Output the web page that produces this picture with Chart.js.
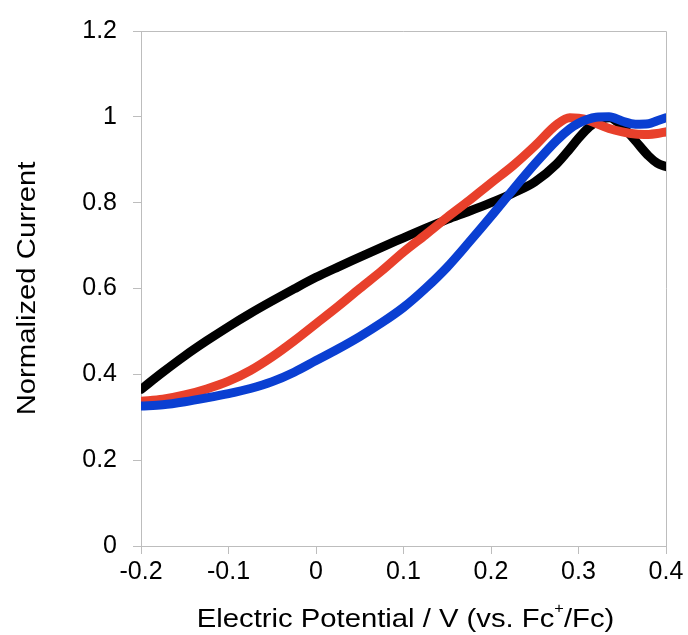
<!DOCTYPE html>
<html>
<head>
<meta charset="utf-8">
<script src="https://cdn.jsdelivr.net/npm/chart.js@4/dist/chart.umd.min.js"></script>
<style>
  html, body { margin: 0; padding: 0; background: #fff; }
  #wrap { width: 688px; height: 635px; position: relative; }
</style>
</head>
<body>
<div id="wrap"><canvas id="c" width="688" height="635"></canvas></div>
<script>
// Potential (V vs. Fc+/Fc) sampled for each trace
const potential = [-0.2, -0.175, -0.15, -0.125, -0.1, -0.075, -0.05, -0.025, 0, 0.025, 0.05, 0.075, 0.1, 0.125, 0.15, 0.175, 0.2, 0.225, 0.25, 0.275, 0.29, 0.3, 0.31, 0.32, 0.335, 0.35, 0.365, 0.38, 0.39, 0.4];

// Normalized current traces
const blackCurrent = [0.365, 0.405, 0.443, 0.478, 0.511, 0.542, 0.571, 0.599, 0.626, 0.650, 0.673, 0.696, 0.718, 0.740, 0.761, 0.780, 0.800, 0.822, 0.848, 0.890, 0.925, 0.950, 0.972, 0.988, 0.998, 0.978, 0.944, 0.909, 0.892, 0.884];
const redCurrent   = [0.337, 0.342, 0.352, 0.366, 0.384, 0.409, 0.441, 0.478, 0.518, 0.558, 0.600, 0.641, 0.685, 0.725, 0.766, 0.805, 0.846, 0.886, 0.932, 0.982, 0.998, 0.997, 0.993, 0.985, 0.973, 0.965, 0.960, 0.959, 0.961, 0.965];
const blueCurrent  = [0.326, 0.329, 0.336, 0.345, 0.355, 0.367, 0.383, 0.405, 0.432, 0.459, 0.488, 0.520, 0.556, 0.600, 0.650, 0.708, 0.768, 0.830, 0.890, 0.945, 0.972, 0.985, 0.994, 0.999, 1.000, 0.990, 0.983, 0.984, 0.991, 0.998];

// Axis tick values
const xTicks = [-0.2, -0.1, 0, 0.1, 0.2, 0.3, 0.4];
const yTicks = [0, 0.2, 0.4, 0.6, 0.8, 1, 1.2];

const toPoints = ys => potential.map((x, i) => ({ x: x, y: ys[i] }));

const FONT = 'Liberation Sans, Arial, sans-serif';
const AXIS_GREY = '#bdbdbd';
const TITLE_SIZE = 25;
const TITLE_STRETCH = 1.17;

// Frame lines on the top and right edge of the plot area
const framePlugin = {
  id: 'frame',
  afterDatasetsDraw(chart) {
    const { ctx, chartArea: a } = chart;
    ctx.save();
    ctx.strokeStyle = AXIS_GREY;
    ctx.lineWidth = 1;
    ctx.beginPath();
    ctx.moveTo(a.left, a.top + 0.5);
    ctx.lineTo(a.right + 0.5, a.top + 0.5);
    ctx.lineTo(a.right + 0.5, a.bottom);
    ctx.stroke();
    ctx.restore();
  }
};

// Writes a run of text pieces (with optional raised pieces) centred on 0
function drawRuns(ctx, parts) {
  let total = 0;
  parts.forEach(p => { ctx.font = p.size + 'px ' + FONT; p.w = ctx.measureText(p.t).width; total += p.w; });
  let x = -total / 2;
  parts.forEach(p => {
    ctx.font = p.size + 'px ' + FONT;
    ctx.fillText(p.t, x, p.dy);
    x += p.w;
  });
}

// Axis titles: x title carries a superscript "+"
const titlesPlugin = {
  id: 'axisTitles',
  afterDraw(chart) {
    const { ctx, chartArea: a } = chart;
    ctx.save();
    ctx.fillStyle = '#000';
    ctx.textBaseline = 'alphabetic';
    ctx.textAlign = 'left';

    ctx.save();
    ctx.translate((a.left + a.right) / 2 + 2, 627);
    ctx.scale(TITLE_STRETCH, 1);
    drawRuns(ctx, [
      { t: 'Electric Potential / V (vs. Fc', size: TITLE_SIZE, dy: 0 },
      { t: '+', size: 14, dy: -14 },
      { t: '/Fc)', size: TITLE_SIZE, dy: 0 }
    ]);
    ctx.restore();

    ctx.save();
    ctx.translate(35, (a.top + a.bottom) / 2);
    ctx.rotate(-Math.PI / 2);
    ctx.scale(TITLE_STRETCH, 1);
    drawRuns(ctx, [{ t: 'Normalized Current', size: TITLE_SIZE, dy: 0 }]);
    ctx.restore();

    ctx.restore();
  }
};

const lineStyle = { borderWidth: 9, pointRadius: 0, fill: false, cubicInterpolationMode: 'monotone', borderCapStyle: 'round' };

new Chart(document.getElementById('c'), {
  type: 'line',
  data: {
    datasets: [
      Object.assign({ label: 'blue', data: toPoints(blueCurrent), borderColor: '#0a3fd2' }, lineStyle),
      Object.assign({ label: 'red', data: toPoints(redCurrent), borderColor: '#e8402b' }, lineStyle),
      Object.assign({ label: 'black', data: toPoints(blackCurrent), borderColor: '#000000' }, lineStyle)
    ]
  },
  options: {
    responsive: false,
    animation: false,
    layout: { padding: { top: 30, right: 22, bottom: 0, left: 0 } },
    plugins: { legend: { display: false }, tooltip: { enabled: false } },
    scales: {
      x: {
        type: 'linear',
        min: -0.2, max: 0.4,
        afterBuildTicks: s => { s.ticks = xTicks.map(v => ({ value: v })); },
        afterFit: s => { s.height = 89; },
        border: { color: AXIS_GREY, width: 1 },
        grid: { drawOnChartArea: false, drawTicks: true, tickLength: 8, color: AXIS_GREY },
        ticks: {
          color: '#000', padding: 3, maxRotation: 0,
          font: { family: FONT, size: 25 },
          callback: v => String(Math.round(v * 10) / 10)
        },
        title: { display: false }
      },
      y: {
        min: 0, max: 1.2,
        afterBuildTicks: s => { s.ticks = yTicks.map(v => ({ value: v })); },
        afterFit: s => { s.width = 141; },
        border: { color: AXIS_GREY, width: 1 },
        grid: { drawOnChartArea: false, drawTicks: true, tickLength: 8, color: AXIS_GREY },
        ticks: {
          color: '#000', padding: 16,
          font: { family: FONT, size: 25 },
          callback: v => String(Math.round(v * 10) / 10)
        },
        title: { display: false }
      }
    }
  },
  plugins: [framePlugin, titlesPlugin]
});
</script>
</body>
</html>
